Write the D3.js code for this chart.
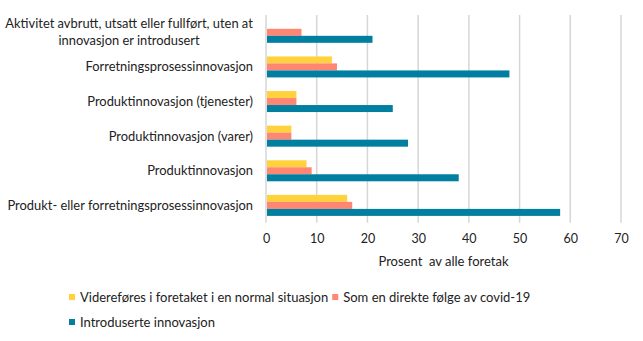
<!DOCTYPE html>
<html>
<head>
<meta charset="utf-8">
<script src="https://cdn.jsdelivr.net/npm/d3@7"></script>
<style>
  html, body { margin: 0; padding: 0; background: #fff; }
  svg { display: block; font-family: Lato, "Noto Sans", sans-serif; }
</style>
</head>
<body>
<div id="chart"></div>
<script>
// kategorier, ovenfra og ned
const categories = [
    ['Aktivitet avbrutt, utsatt eller fullført, uten at', 'innovasjon er introdusert'],
    ['Forretningsprosessinnovasjon'],
    ['Produktinnovasjon (tjenester)'],
    ['Produktinnovasjon (varer)'],
    ['Produktinnovasjon'],
    ['Produkt- eller forretningsprosessinnovasjon']
];
const seriesNames = [
    'Videreføres i foretaket i en normal situasjon',
    'Som en direkte følge av covid-19',
    'Introduserte innovasjon'
];
const seriesColors = ['#ffd23c', '#ff8673', '#007fa0'];
// prosent av alle foretak
const videreforesValues = [0, 13, 6, 5, 8, 16];
const covidValues = [7, 14, 6, 5, 9, 17];
const introdusertValues = [21, 48, 25, 28, 38, 58];
const xTicks = [0, 10, 20, 30, 40, 50, 60, 70];
const xTitle = 'Prosent  av alle foretak';

const width = 643, height = 341;
const plot = { left: 266, right: 621, top: 15, bottom: 222.7 };
const textColor = '#222';

const values = [videreforesValues, covidValues, introdusertValues];

const svg = d3.select('#chart').append('svg')
    .attr('width', width)
    .attr('height', height);

const x = d3.scaleLinear().domain([0, 70]).range([plot.left, plot.right]);

const y = d3.scaleBand()
    .domain(d3.range(categories.length))
    .range([plot.top, plot.bottom])
    .paddingInner(0.393)
    .paddingOuter(0.1965);

const ySeries = d3.scaleBand()
    .domain(d3.range(seriesNames.length))
    .range([0, y.bandwidth()]);

// rutenett
svg.append('g')
    .selectAll('line')
    .data(xTicks)
    .join('line')
    .attr('x1', d => x(d)).attr('x2', d => x(d))
    .attr('y1', plot.top).attr('y2', plot.bottom)
    .attr('stroke', '#d6d6d6')
    .attr('stroke-width', 1.5);

// søyler
const groups = svg.append('g')
    .selectAll('g')
    .data(categories.map((c, i) => i))
    .join('g')
    .attr('transform', i => `translate(0,${y(i)})`);

groups.selectAll('rect')
    .data(i => values.map((v, s) => ({ s, v: v[i] })))
    .join('rect')
    .attr('x', x(0) + 1)
    .attr('y', d => ySeries(d.s))
    .attr('width', d => Math.max(0, x(d.v) - x(0) - 1))
    .attr('height', ySeries.bandwidth())
    .attr('fill', d => seriesColors[d.s]);

// x-akse
const xAxis = svg.append('g')
    .attr('transform', `translate(0,${plot.bottom})`)
    .call(d3.axisBottom(x).tickValues(xTicks).tickSize(0).tickPadding(11));
xAxis.select('.domain').remove();
xAxis.selectAll('text')
    .attr('font-family', 'Lato, "Noto Sans", sans-serif')
    .attr('font-size', 12.5)
    .attr('fill', textColor);

svg.append('text')
    .attr('x', (plot.left + plot.right) / 2)
    .attr('y', 266)
    .attr('text-anchor', 'middle')
    .attr('font-size', 13)
    .attr('fill', textColor)
    .style('white-space', 'pre')
    .text(xTitle);

// kategorietiketter, flerlinjers tekst sentreres i blokken
const labelRight = 253;
categories.forEach((lines, i) => {
    const cy = y(i) + y.bandwidth() / 2;
    const t = svg.append('text')
        .attr('font-size', 12.9)
        .attr('fill', textColor)
        .attr('text-anchor', 'middle');
    lines.forEach((line, k) => {
        t.append('tspan')
            .attr('x', 0)
            .attr('y', cy + (k - (lines.length - 1) / 2) * 17)
            .attr('dy', '0.35em')
            .text(line);
    });
    const w = t.node().getBBox().width;
    t.attr('transform', `translate(${labelRight - w / 2},0)`);
});

// tegnforklaring
const legendRows = [[0, 1], [2]];
legendRows.forEach((row, r) => {
    let lx = 69;
    const ly = 297 + r * 25;
    row.forEach(s => {
        svg.append('rect')
            .attr('x', lx).attr('y', ly - 3)
            .attr('width', 6).attr('height', 6)
            .attr('fill', seriesColors[s]);
        const t = svg.append('text')
            .attr('x', lx + 11)
            .attr('y', ly)
            .attr('dy', '0.35em')
            .attr('font-size', 13)
            .attr('fill', textColor)
            .text(seriesNames[s]);
        lx += 11 + t.node().getComputedTextLength() + 4;
    });
});
</script>
</body>
</html>
